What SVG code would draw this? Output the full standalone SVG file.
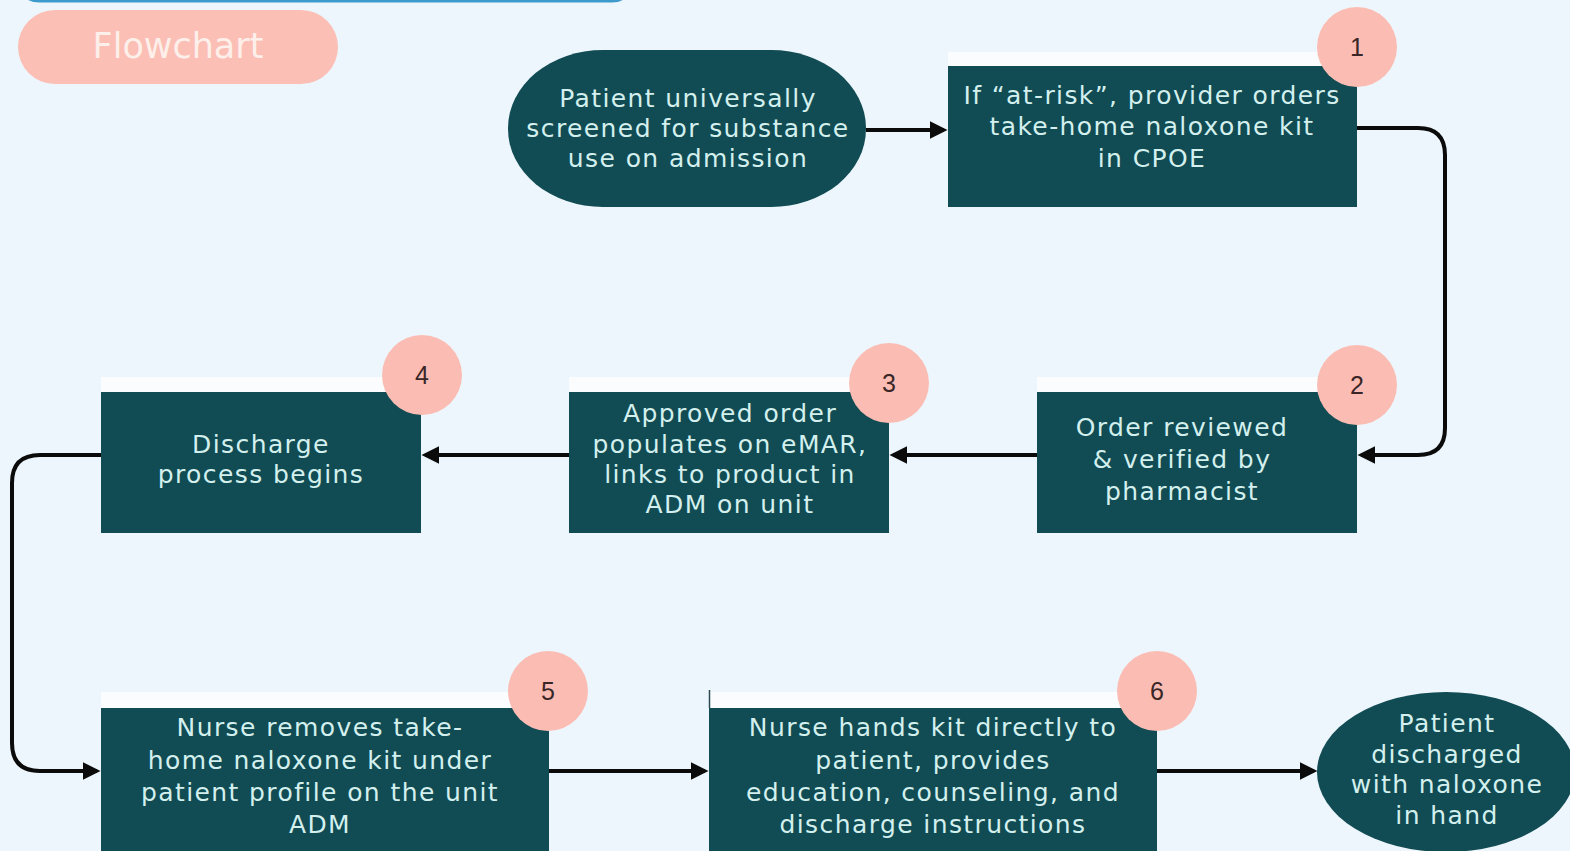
<svg xmlns="http://www.w3.org/2000/svg" width="1570" height="851" viewBox="0 0 1570 851">
<defs>
<style>
.node{fill:#114B53}
.strip{fill:#FAFCFD}
.badge{fill:#FBBDB3}
.t{font-family:"DejaVu Sans","Open Sans",sans-serif;font-size:25px;letter-spacing:1.4px;fill:#D3F0EE;text-anchor:middle}
.bt{font-family:"Liberation Sans","Open Sans",sans-serif;font-size:25px;fill:#3A2626;text-anchor:middle}
.edge{fill:none;stroke:#0B0B0B;stroke-width:4}
</style>
<marker id="ah" viewBox="0 0 10 10" refX="8" refY="5" markerWidth="4.4" markerHeight="4.4" orient="auto" markerUnits="strokeWidth">
<path d="M0,0 L10,5 L0,10 z" fill="#0B0B0B"/>
</marker>
</defs>
<rect x="0" y="0" width="1570" height="851" fill="#EDF6FC"/>
<path d="M20,-20 Q20,1 40,1 L612,1 Q630,1 630,-20" fill="none" stroke="#3D9ACC" stroke-width="3"/>
<g id="title">
<rect x="18" y="10" width="320" height="74" rx="37" fill="#FBBFB5"/>
<text x="178" y="58" style="font-family:'DejaVu Sans','Open Sans',sans-serif;font-size:35px;fill:#FDEFEA;text-anchor:middle">Flowchart</text>
</g>
<g id="connectors">
<path class="edge" d="M866,130 L944,130" marker-end="url(#ah)"/>
<path class="edge" d="M1357,128 L1418,128 Q1445,128 1445,155 L1445,428 Q1445,455 1418,455 L1361,455" marker-end="url(#ah)"/>
<path class="edge" d="M1037,455 L893,455" marker-end="url(#ah)"/>
<path class="edge" d="M569,455 L425,455" marker-end="url(#ah)"/>
<path class="edge" d="M101,455 L40,455 Q12,455 12,483 L12,743 Q12,771 40,771 L97,771" marker-end="url(#ah)"/>
<path class="edge" d="M549,771 L705,771" marker-end="url(#ah)"/>
<path class="edge" d="M1157,771 L1314,771" marker-end="url(#ah)"/>
</g>
<g id="start">
<rect class="node" x="508" y="50" width="358" height="157" rx="95" ry="78"/>
<text class="t" x="688" y="107">Patient universally</text>
<text class="t" x="688" y="137">screened for substance</text>
<text class="t" x="688" y="167">use on admission</text>
</g>
<g id="step1">
<rect class="strip" x="948" y="52" width="380" height="15"/>
<rect class="node" x="948" y="66" width="409" height="141"/>
<circle class="badge" cx="1357" cy="47" r="40"/>
<text class="bt" x="1357" y="56">1</text>
<text class="t" x="1152" y="104">If “at-risk”, provider orders</text>
<text class="t" x="1152" y="135">take-home naloxone kit</text>
<text class="t" x="1152" y="167">in CPOE</text>
</g>
<g id="step2">
<rect class="strip" x="1037" y="377" width="300" height="16"/>
<rect class="node" x="1037" y="392" width="320" height="141"/>
<circle class="badge" cx="1357" cy="385" r="40"/>
<text class="bt" x="1357" y="394">2</text>
<text class="t" x="1182" y="436">Order reviewed</text>
<text class="t" x="1182" y="468">&amp; verified by</text>
<text class="t" x="1182" y="500">pharmacist</text>
</g>
<g id="step3">
<rect class="strip" x="569" y="377" width="300" height="16"/>
<rect class="node" x="569" y="392" width="320" height="141"/>
<circle class="badge" cx="889" cy="383" r="40"/>
<text class="bt" x="889" y="392">3</text>
<text class="t" x="730" y="422">Approved order</text>
<text class="t" x="730" y="453">populates on eMAR,</text>
<text class="t" x="730" y="483">links to product in</text>
<text class="t" x="730" y="513">ADM on unit</text>
</g>
<g id="step4">
<rect class="strip" x="101" y="377" width="300" height="16"/>
<rect class="node" x="101" y="392" width="320" height="141"/>
<circle class="badge" cx="422" cy="375" r="40"/>
<text class="bt" x="422" y="384">4</text>
<text class="t" x="261" y="453">Discharge</text>
<text class="t" x="261" y="483">process begins</text>
</g>
<g id="step5">
<rect class="strip" x="101" y="692" width="420" height="17"/>
<rect class="node" x="101" y="708" width="448" height="143"/>
<circle class="badge" cx="548" cy="691" r="40"/>
<text class="bt" x="548" y="700">5</text>
<text class="t" x="320" y="736">Nurse removes take-</text>
<text class="t" x="320" y="769">home naloxone kit under</text>
<text class="t" x="320" y="801">patient profile on the unit</text>
<text class="t" x="320" y="833">ADM</text>
</g>
<g id="step6">
<rect class="strip" x="709" y="692" width="420" height="17"/>
<line x1="709.5" y1="690" x2="709.5" y2="708" stroke="#2A4A50" stroke-width="1.5"/>
<rect class="node" x="709" y="708" width="448" height="143"/>
<circle class="badge" cx="1157" cy="691" r="40"/>
<text class="bt" x="1157" y="700">6</text>
<text class="t" x="933" y="736">Nurse hands kit directly to</text>
<text class="t" x="933" y="769">patient, provides</text>
<text class="t" x="933" y="801">education, counseling, and</text>
<text class="t" x="933" y="833">discharge instructions</text>
</g>
<g id="end">
<ellipse class="node" cx="1446" cy="772" rx="129" ry="80"/>
<text class="t" x="1447" y="732">Patient</text>
<text class="t" x="1447" y="763">discharged</text>
<text class="t" x="1447" y="793">with naloxone</text>
<text class="t" x="1447" y="824">in hand</text>
</g>
</svg>
